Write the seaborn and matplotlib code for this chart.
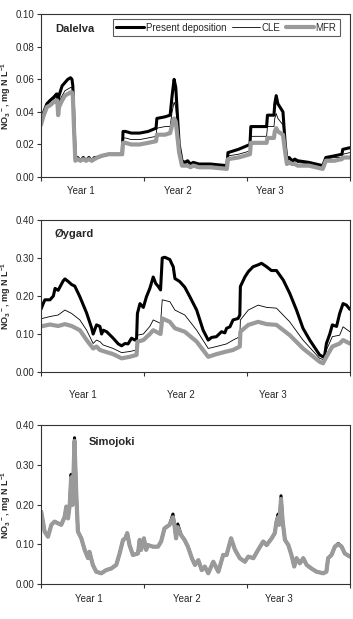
import numpy as np
import pandas as pd
import matplotlib
matplotlib.use("Agg")
import matplotlib.pyplot as plt
import seaborn as sns

# ---------------- data ----------------
# Dalelva (day of 3-year period, NO3 mg N/L)
dal_days = [0, 10, 21, 32, 45, 55, 58, 61, 64, 75, 85, 95, 105, 110, 113, 118, 122, 130, 140, 150,
            160, 170, 180, 190, 200, 215, 240, 288, 291, 300, 320, 350, 380, 408, 411, 440, 458, 465,
            472, 478, 490, 500, 510, 520, 530, 540, 560, 600, 659, 663, 700, 741, 744, 800, 803, 826,
            829, 834, 840, 858, 866, 872, 880, 890, 900, 910, 950, 999, 1010, 1040, 1067, 1070, 1095]
dal_present = [0.033, 0.040, 0.045, 0.047, 0.049, 0.051, 0.051, 0.047, 0.050, 0.056, 0.058, 0.060, 0.061,
               0.060, 0.056, 0.030, 0.011, 0.012, 0.010, 0.012, 0.010, 0.012, 0.010, 0.012, 0.012, 0.013,
               0.014, 0.014, 0.028, 0.028, 0.027, 0.027, 0.028, 0.030, 0.036, 0.037, 0.038, 0.050, 0.060,
               0.055, 0.020, 0.010, 0.009, 0.010, 0.008, 0.009, 0.008, 0.008, 0.007, 0.015, 0.017, 0.020,
               0.031, 0.031, 0.038, 0.038, 0.045, 0.050, 0.045, 0.040, 0.020, 0.011, 0.012, 0.010, 0.011,
               0.010, 0.009, 0.007, 0.012, 0.013, 0.014, 0.017, 0.018]
dal_cle = [0.033, 0.040, 0.045, 0.046, 0.048, 0.049, 0.049, 0.043, 0.046, 0.050, 0.053, 0.054, 0.055,
           0.055, 0.052, 0.028, 0.011, 0.012, 0.010, 0.012, 0.010, 0.012, 0.010, 0.012, 0.012, 0.013,
           0.014, 0.014, 0.024, 0.024, 0.023, 0.023, 0.024, 0.025, 0.030, 0.031, 0.031, 0.040, 0.046,
           0.043, 0.018, 0.009, 0.008, 0.009, 0.007, 0.008, 0.007, 0.007, 0.006, 0.013, 0.014, 0.016,
           0.025, 0.025, 0.031, 0.031, 0.036, 0.039, 0.036, 0.032, 0.018, 0.010, 0.011, 0.009, 0.010,
           0.009, 0.008, 0.006, 0.011, 0.012, 0.012, 0.014, 0.015]
dal_mfr = [0.032, 0.038, 0.043, 0.044, 0.046, 0.047, 0.047, 0.038, 0.043, 0.047, 0.050, 0.051, 0.052,
           0.052, 0.050, 0.026, 0.010, 0.011, 0.010, 0.011, 0.010, 0.011, 0.010, 0.011, 0.012, 0.013,
           0.014, 0.014, 0.021, 0.021, 0.020, 0.020, 0.021, 0.022, 0.026, 0.026, 0.027, 0.032, 0.036,
           0.034, 0.015, 0.007, 0.007, 0.007, 0.006, 0.007, 0.006, 0.006, 0.005, 0.011, 0.012, 0.014,
           0.021, 0.021, 0.024, 0.024, 0.028, 0.030, 0.028, 0.026, 0.015, 0.008, 0.009, 0.008, 0.008,
           0.007, 0.007, 0.005, 0.010, 0.010, 0.011, 0.012, 0.012]

# Oygard
oy_days_p = [0, 8, 14, 32, 44, 50, 61, 79, 85, 97, 109, 120, 138, 162, 180, 185, 197, 209, 215, 221,
             233, 256, 274, 286, 298, 309, 321, 333, 339, 342, 351, 363, 374, 386, 398, 407, 416, 424,
             430, 439, 457, 463, 469, 475, 492, 510, 528, 552, 575, 593, 605, 622, 640, 652, 658, 670,
             681, 699, 705, 707, 723, 735, 752, 770, 782, 800, 817, 835, 859, 882, 906, 929, 953, 988,
             1000, 1006, 1012, 1024, 1033, 1048, 1059, 1071, 1083, 1095]
oy_present = [0.165, 0.180, 0.190, 0.190, 0.200, 0.220, 0.215, 0.240, 0.245, 0.238, 0.230, 0.226, 0.198,
              0.155, 0.115, 0.100, 0.124, 0.120, 0.100, 0.110, 0.106, 0.089, 0.074, 0.069, 0.075, 0.074,
              0.089, 0.084, 0.088, 0.154, 0.180, 0.170, 0.198, 0.220, 0.250, 0.233, 0.225, 0.216, 0.300,
              0.302, 0.296, 0.286, 0.277, 0.246, 0.238, 0.223, 0.198, 0.163, 0.110, 0.084, 0.091, 0.093,
              0.106, 0.103, 0.115, 0.119, 0.137, 0.141, 0.150, 0.225, 0.250, 0.264, 0.277, 0.282, 0.286,
              0.277, 0.267, 0.267, 0.242, 0.207, 0.163, 0.115, 0.084, 0.045, 0.040, 0.045, 0.075, 0.100,
              0.124, 0.120, 0.154, 0.180, 0.176, 0.165]
oy_days_s = [0, 32, 61, 85, 109, 138, 162, 185, 197, 209, 221, 256, 286, 315, 339, 342, 363, 386, 398,
             424, 430, 457, 475, 510, 552, 593, 622, 658, 681, 705, 707, 735, 770, 800, 835, 882, 929,
             988, 1000, 1012, 1033, 1059, 1071, 1095]
oy_cle = [0.140, 0.146, 0.150, 0.163, 0.154, 0.137, 0.110, 0.075, 0.084, 0.080, 0.071, 0.062, 0.051,
          0.054, 0.058, 0.097, 0.100, 0.120, 0.137, 0.128, 0.190, 0.185, 0.163, 0.150, 0.110, 0.062,
          0.067, 0.074, 0.084, 0.093, 0.137, 0.163, 0.176, 0.170, 0.168, 0.132, 0.084, 0.036, 0.033,
          0.058, 0.093, 0.097, 0.119, 0.106]
oy_mfr = [0.120, 0.125, 0.121, 0.126, 0.121, 0.110, 0.084, 0.062, 0.067, 0.058, 0.055, 0.047, 0.036,
          0.040, 0.045, 0.080, 0.084, 0.100, 0.110, 0.100, 0.141, 0.132, 0.115, 0.106, 0.080, 0.040,
          0.047, 0.054, 0.058, 0.067, 0.106, 0.124, 0.132, 0.126, 0.124, 0.097, 0.062, 0.027, 0.023,
          0.040, 0.067, 0.075, 0.084, 0.075]

# Simojoki
sim_days = [1, 13, 25, 37, 48, 60, 72, 84, 90, 96, 102, 107, 112, 119, 125, 131, 143, 155, 167, 172,
            184, 196, 214, 231, 249, 267, 279, 291, 299, 306, 314, 326, 344, 350, 355, 365, 373, 379,
            397, 415, 426, 438, 456, 468, 474, 479, 485, 497, 509, 521, 535, 546, 558, 570, 581, 593,
            611, 629, 646, 658, 674, 688, 705, 723, 735, 753, 770, 788, 800, 818, 829, 835, 841, 845,
            851, 857, 865, 877, 888, 898, 906, 918, 930, 942, 959, 977, 1001, 1012, 1018, 1030, 1042,
            1054, 1066, 1077, 1095]
sim_mfr = [0.182, 0.132, 0.119, 0.149, 0.157, 0.153, 0.149, 0.169, 0.195, 0.165, 0.199, 0.268, 0.199,
           0.360, 0.232, 0.132, 0.115, 0.086, 0.065, 0.081, 0.048, 0.031, 0.027, 0.035, 0.039, 0.048,
           0.077, 0.111, 0.115, 0.128, 0.098, 0.073, 0.077, 0.111, 0.086, 0.115, 0.086, 0.098, 0.094,
           0.094, 0.107, 0.140, 0.149, 0.168, 0.144, 0.115, 0.143, 0.123, 0.111, 0.094, 0.065, 0.048,
           0.060, 0.035, 0.044, 0.027, 0.056, 0.031, 0.073, 0.073, 0.115, 0.086, 0.065, 0.056, 0.069,
           0.065, 0.086, 0.107, 0.098, 0.115, 0.128, 0.157, 0.168, 0.149, 0.214, 0.157, 0.111, 0.098,
           0.073, 0.044, 0.065, 0.052, 0.065, 0.048, 0.039, 0.031, 0.027, 0.031, 0.065, 0.073, 0.094,
           0.100, 0.094, 0.077, 0.069]
sim_present = [0.182, 0.132, 0.119, 0.149, 0.157, 0.153, 0.149, 0.169, 0.195, 0.165, 0.199, 0.276, 0.199,
               0.368, 0.232, 0.132, 0.115, 0.086, 0.065, 0.081, 0.048, 0.031, 0.027, 0.035, 0.039, 0.048,
               0.077, 0.111, 0.115, 0.128, 0.098, 0.073, 0.077, 0.111, 0.086, 0.115, 0.086, 0.098, 0.094,
               0.094, 0.107, 0.140, 0.149, 0.176, 0.144, 0.115, 0.151, 0.123, 0.111, 0.094, 0.065, 0.048,
               0.060, 0.035, 0.044, 0.027, 0.056, 0.031, 0.073, 0.073, 0.115, 0.086, 0.065, 0.056, 0.069,
               0.065, 0.086, 0.107, 0.098, 0.115, 0.128, 0.157, 0.176, 0.149, 0.222, 0.157, 0.111, 0.098,
               0.073, 0.044, 0.065, 0.052, 0.065, 0.048, 0.039, 0.031, 0.027, 0.031, 0.065, 0.073, 0.094,
               0.102, 0.094, 0.077, 0.069]
sim_cle = sim_mfr

year_labels = ["Year 1", "Year 2", "Year 3"]
series_names = ["Present deposition", "CLE", "MFR"]

# ---------------- style ----------------
sns.set_theme(style="ticks")
plt.rcParams["font.family"] = ["Liberation Sans", "DejaVu Sans"]
plt.rcParams["mathtext.fontset"] = "custom"
plt.rcParams["mathtext.rm"] = "Liberation Sans:bold"
plt.rcParams["mathtext.it"] = "Liberation Sans:bold"
plt.rcParams["mathtext.bf"] = "Liberation Sans:bold"

DPI = 100
fig = plt.figure(figsize=(3.53, 6.19), dpi=DPI)

panels = [
    dict(name="Dalelva", rect=[0.116, 0.714, 0.875, 0.263], ylim=0.10, step=0.02,
         days=[dal_days, dal_days, dal_days], vals=[dal_present, dal_cle, dal_mfr],
         title_xy=(0.045, 0.908), ylab=[142, 486, 812], pad=6.5, legend=True),
    dict(name="Øygard", rect=[0.116, 0.399, 0.875, 0.2456], ylim=0.40, step=0.10,
         days=[oy_days_p, oy_days_s, oy_days_s], vals=[oy_present, oy_cle, oy_mfr],
         title_xy=(0.045, 0.908), ylab=[149, 496, 822], pad=13, legend=False),
    dict(name="Simojoki", rect=[0.116, 0.0565, 0.875, 0.2569], ylim=0.40, step=0.10,
         days=[sim_days, sim_days, sim_days], vals=[sim_present, sim_cle, sim_mfr],
         title_xy=(0.155, 0.893), ylab=[170, 517, 843], pad=7.5, legend=False),
]

styles = [dict(color="black", lw=2.2), dict(color="black", lw=0.6), dict(color="#9a9a9a", lw=3.0)]

for p in panels:
    ax = fig.add_axes(p["rect"])
    for d, v, st, nm in zip(p["days"], p["vals"], styles, series_names):
        df = pd.DataFrame({"day": d, "val": v})
        sns.lineplot(data=df, x="day", y="val", ax=ax, color=st["color"], linewidth=st["lw"],
                     label=nm, legend=False, estimator=None, sort=False)
    ax.set_xlim(0, 1095)
    ax.set_ylim(0, p["ylim"])
    yt = np.round(np.arange(0, p["ylim"] + 1e-9, p["step"]), 2)
    ax.set_yticks(yt)
    ax.set_yticklabels([f"{t:.2f}" for t in yt], fontsize=7)
    ax.set_xticks([0, 365, 730, 1095])
    ax.set_xticklabels([])
    ax.set_xticks(p["ylab"], minor=True)
    ax.set_xticklabels(year_labels, minor=True, fontsize=7)
    ax.tick_params(axis="x", which="minor", length=0, pad=p["pad"])
    ax.tick_params(axis="both", which="major", length=3, width=0.8, direction="out", color="#333333")
    ax.tick_params(axis="y", pad=2)
    ax.set_xlabel("")
    ax.set_ylabel(r"NO$_3$$^-$, mg N L$^{-1}$", fontsize=6.5, fontweight="bold")
    ax.yaxis.set_label_coords(-0.092, 0.5)
    for s in ax.spines.values():
        s.set_visible(True)
        s.set_linewidth(0.8)
        s.set_color("#333333")
    ax.text(p["title_xy"][0], p["title_xy"][1], p["name"], transform=ax.transAxes,
            fontsize=8, fontweight="bold", va="center", ha="left")
    if p["legend"]:
        h, l = ax.get_legend_handles_labels()
        leg = ax.legend(h, l, ncol=3, loc="upper right", bbox_to_anchor=(0.968, 0.97),
                        fontsize=7, frameon=True, fancybox=False, handlelength=2.9,
                        handletextpad=0.2, columnspacing=0.5, borderpad=0.35,
                        borderaxespad=0.0)
        leg.get_frame().set_edgecolor("#333333")
        leg.get_frame().set_linewidth(0.8)

fig.savefig("out.png", dpi=DPI)
